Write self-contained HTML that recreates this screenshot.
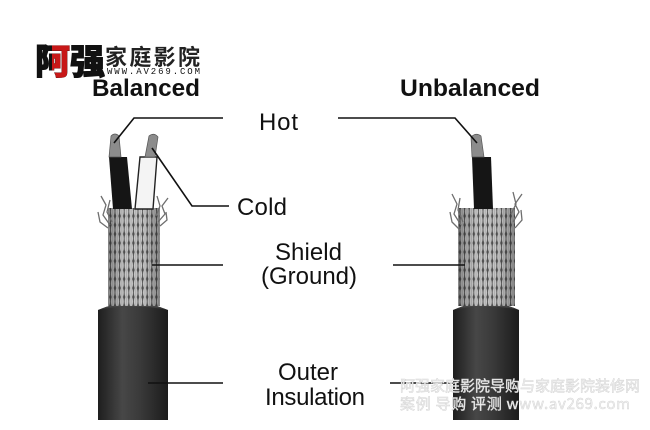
<!DOCTYPE html>
<html><head><meta charset="utf-8"><style>
html,body{margin:0;padding:0;background:#fff;}
svg{display:block;}
text{font-family:"Liberation Sans","Noto Sans CJK SC",sans-serif;}
</style></head><body>
<svg width="650" height="430" viewBox="0 0 650 430" xmlns="http://www.w3.org/2000/svg">
<defs>
  <pattern id="braid" x="0" y="0" width="4.6" height="9" patternUnits="userSpaceOnUse">
    <rect width="4.6" height="9" fill="#4e4e4e"/>
    <ellipse cx="2.3" cy="4.5" rx="1.9" ry="5.2" fill="#c6c6c6"/>
    <line x1="2.3" y1="0" x2="2.3" y2="9" stroke="#8a8a8a" stroke-width="0.4"/>
  </pattern>
  <linearGradient id="bshade" x1="0" x2="1" y1="0" y2="0">
    <stop offset="0" stop-color="#000" stop-opacity="0.3"/>
    <stop offset="0.3" stop-color="#000" stop-opacity="0"/>
    <stop offset="0.7" stop-color="#000" stop-opacity="0"/>
    <stop offset="1" stop-color="#000" stop-opacity="0.3"/>
  </linearGradient>
  <linearGradient id="jacket" x1="0" x2="1" y1="0" y2="0">
    <stop offset="0" stop-color="#1e1e1e"/>
    <stop offset="0.35" stop-color="#474747"/>
    <stop offset="0.6" stop-color="#3a3a3a"/>
    <stop offset="1" stop-color="#1c1c1c"/>
  </linearGradient>
  <linearGradient id="dome" x1="0" x2="0" y1="0" y2="1">
    <stop offset="0" stop-color="#666"/>
    <stop offset="1" stop-color="#2a2a2a"/>
  </linearGradient>
  <clipPath id="redhalf"><rect x="52" y="40" width="40" height="40"/></clipPath>
</defs>

<!-- Logo -->
<text x="35" y="74" font-size="35" font-weight="900" fill="#111" stroke="#111" stroke-width="1" style="font-family:'Noto Sans CJK SC','WenQuanYi Zen Hei',sans-serif">阿强</text>
<text x="35" y="74" font-size="35" font-weight="900" fill="#c81818" stroke="#c81818" stroke-width="0.6" clip-path="url(#redhalf)" style="font-family:'Noto Sans CJK SC','WenQuanYi Zen Hei',sans-serif">阿</text>
<text x="105" y="65" font-size="22" font-weight="bold" fill="#222" textLength="95" style="font-family:'Noto Sans CJK SC','WenQuanYi Zen Hei',sans-serif">家庭影院</text>
<text x="107" y="74" font-size="9" fill="#111" textLength="93" style="font-family:'Liberation Mono',monospace">WWW.AV269.COM</text>

<!-- Headings -->
<text x="92" y="96" font-size="24" font-weight="bold" fill="#111" textLength="108" lengthAdjust="spacingAndGlyphs">Balanced</text>
<text x="400" y="96" font-size="24" font-weight="bold" fill="#111" textLength="140" lengthAdjust="spacingAndGlyphs">Unbalanced</text>

<!-- LEFT CABLE -->
<path d="M98,310 Q133,295 168,310 L168,420 L98,420 Z" fill="url(#jacket)"/>
<path d="M98,310 Q133,295 168,310 Q133,303 98,310 Z" fill="url(#dome)"/>
<rect x="108" y="208" width="52" height="98" fill="url(#braid)"/>
<rect x="108" y="208" width="52" height="98" fill="url(#bshade)"/>
<g fill="none" stroke="#6e6e6e" stroke-width="1.3">
  <path d="M110,225 L103,215 L106,205 L101,196"/>
  <path d="M112,222 L107,212 L110,200"/>
  <path d="M108,228 L100,222 L98,212"/>
  <path d="M158,222 L165,214 L162,206 L168,198"/>
  <path d="M156,216 L160,206 L157,196"/>
  <path d="M160,226 L167,220 L166,212"/>
</g>
<!-- wires -->
<path d="M109,157 L127,157 L132,209 L113,209 Z" fill="#151515"/>
<path d="M140,157 L157,157 L153,209 L135,209 Z" fill="#f4f4f4" stroke="#222" stroke-width="1.4"/>
<path d="M109,157 L111,136 Q115,132 119,136 L121,157 Z" fill="#8c8c8c" stroke="#555" stroke-width="0.7"/>
<path d="M145,157 L149,136 Q154,132 158,137 L155,157 Z" fill="#8c8c8c" stroke="#555" stroke-width="0.7"/>

<!-- RIGHT CABLE -->
<path d="M453,310 Q486,295 519,310 L519,420 L453,420 Z" fill="url(#jacket)"/>
<path d="M453,310 Q486,295 519,310 Q486,303 453,310 Z" fill="url(#dome)"/>
<rect x="458" y="208" width="57" height="98" fill="url(#braid)"/>
<rect x="458" y="208" width="57" height="98" fill="url(#bshade)"/>
<g fill="none" stroke="#6e6e6e" stroke-width="1.3">
  <path d="M461,225 L454,214 L457,204 L452,194"/>
  <path d="M463,222 L458,210 L460,198"/>
  <path d="M460,230 L452,222 L450,212"/>
  <path d="M513,222 L519,212 L515,204 L522,194"/>
  <path d="M511,214 L516,204 L513,192"/>
  <path d="M515,228 L522,220 L521,210"/>
</g>
<path d="M472,157 L491,157 L493,209 L474,209 Z" fill="#151515"/>
<path d="M472,157 L471,137 Q476,132 481,136 L484,157 Z" fill="#8c8c8c" stroke="#555" stroke-width="0.7"/>

<!-- Leader lines -->
<g fill="none" stroke="#111" stroke-width="1.6">
  <polyline points="114,143 134,118 223,118"/>
  <polyline points="338,118 455,118 477,143"/>
  <polyline points="152,148 192,206 229,206"/>
  <line x1="152" y1="265" x2="223" y2="265"/>
  <line x1="393" y1="265" x2="465" y2="265"/>
  <line x1="148" y1="383" x2="223" y2="383"/>
  <line x1="390" y1="383" x2="458" y2="383"/>
</g>

<!-- Labels -->
<g font-size="24" fill="#111">
  <text x="259" y="130" textLength="39">Hot</text>
  <text x="237" y="215" textLength="50">Cold</text>
  <text x="275" y="260" textLength="67">Shield</text>
  <text x="261" y="284" textLength="96">(Ground)</text>
  <text x="278" y="380" textLength="60">Outer</text>
  <text x="265" y="405" textLength="100">Insulation</text>
</g>

<!-- Watermark -->
<g fill="#f3f3f3" stroke="#d4d4d4" stroke-width="0.5" font-size="15">
  <text x="400" y="391" textLength="240" style="font-family:'Noto Sans CJK SC','WenQuanYi Zen Hei',sans-serif">阿强家庭影院导购与家庭影院装修网</text>
  <text x="400" y="409" textLength="230" style="font-family:'Noto Sans CJK SC','WenQuanYi Zen Hei',sans-serif">案例 导购 评测 www.av269.com</text>
</g>
</svg>
</body></html>
